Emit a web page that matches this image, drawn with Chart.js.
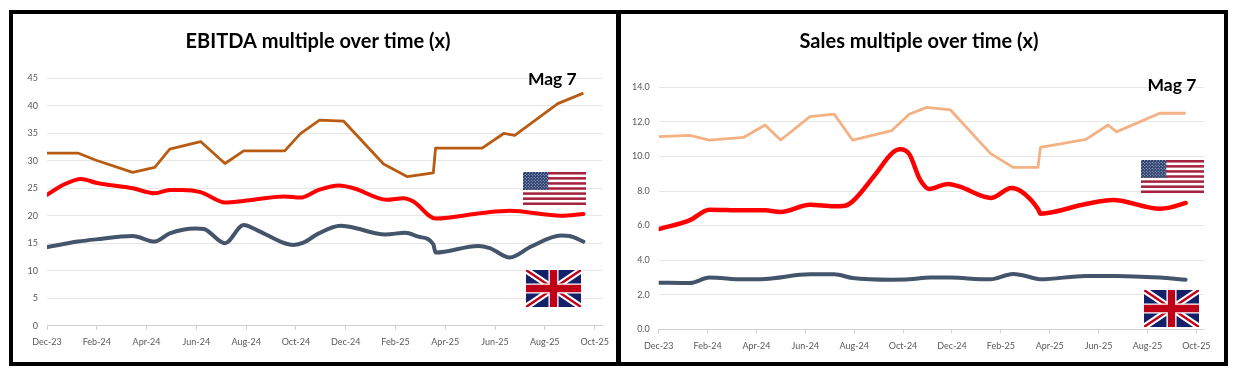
<!DOCTYPE html>
<html>
<head>
<meta charset="utf-8">
<title>Multiples over time</title>
<script src="https://cdn.jsdelivr.net/npm/chart.js@4"></script>
<style>
  html, body { margin: 0; padding: 0; background: #fff; width: 1233px; height: 371px; overflow: hidden; }
  .frame { position: absolute; background: #000; }
  .box { position: absolute; width: 603px; height: 348px; top: 14px; }
  .flag { position: absolute; }
</style>
</head>
<body>
<!-- black frame round both panels -->
<div class="frame" style="left:9px;top:10px;width:1219px;height:4px"></div>
<div class="frame" style="left:9px;top:362px;width:1219px;height:4px"></div>
<div class="frame" style="left:9px;top:10px;width:4px;height:356px"></div>
<div class="frame" style="left:616px;top:10px;width:5px;height:356px"></div>
<div class="frame" style="left:1224px;top:10px;width:4px;height:356px"></div>

<div class="box" style="left:13px"><canvas id="ebitdaChart" width="603" height="348"></canvas></div>
<div class="box" style="left:621px"><canvas id="salesChart" width="603" height="348"></canvas></div>

<svg width="0" height="0" style="position:absolute">
  <defs>
    <pattern id="stars" width="9" height="9" patternUnits="userSpaceOnUse">
      <circle cx="2.2" cy="2.2" r="1.7" fill="#fff"/>
      <circle cx="6.7" cy="6.7" r="1.7" fill="#fff"/>
    </pattern>
    <symbol id="usFlag" viewBox="0 0 190 100" preserveAspectRatio="none">
      <rect width="190" height="100" fill="#fff"/>
      <g fill="#a5233f">
        <rect y="0" width="190" height="7.7"/><rect y="15.4" width="190" height="7.7"/>
        <rect y="30.8" width="190" height="7.7"/><rect y="46.2" width="190" height="7.7"/>
        <rect y="61.6" width="190" height="7.7"/><rect y="77" width="190" height="7.7"/>
        <rect y="92.3" width="190" height="7.7"/>
      </g>
      <rect width="76" height="54" fill="#1f3568"/>
      <rect width="76" height="54" fill="url(#stars)"/>
    </symbol>
    <symbol id="ukFlag" viewBox="0 0 60 40" preserveAspectRatio="none">
      <rect width="60" height="40" fill="#12216a"/>
      <path d="M0 0L60 40M60 0L0 40" stroke="#fff" stroke-width="7"/>
      <path d="M0 0L60 40M60 0L0 40" stroke="#c00018" stroke-width="2.6"/>
      <path d="M30 0V40M0 20H60" stroke="#fff" stroke-width="11"/>
      <path d="M30 0V40M0 20H60" stroke="#c00018" stroke-width="8"/>
    </symbol>
  </defs>
</svg>
<svg class="flag" style="left:523px;top:172px" width="63" height="33"><use href="#usFlag" width="63" height="33"/></svg>
<svg class="flag" style="left:526px;top:270px" width="55" height="37"><use href="#ukFlag" width="55" height="37"/></svg>
<svg class="flag" style="left:1141px;top:160px" width="63" height="33"><use href="#usFlag" width="63" height="33"/></svg>
<svg class="flag" style="left:1144px;top:290px" width="55" height="37"><use href="#ukFlag" width="55" height="37"/></svg>

<script>
// tick labels, one every two months from Dec-23
const monthLabels = ["Dec-23", "Feb-24", "Apr-24", "Jun-24", "Aug-24", "Oct-24", "Dec-24",
                     "Feb-25", "Apr-25", "Jun-25", "Aug-25", "Oct-25"];

// x values are months since Dec-23
const ebitdaMagMonths = [0, 1.24, 1.97, 3.44, 4.33, 4.93, 6.17, 7.15, 7.9, 9.55, 10.17, 10.95, 11.92, 13.52, 14.48, 15.52, 15.61, 17.48, 18.36, 18.79, 20.52, 21.55];
const ebitdaMagValues = [31.4, 31.4, 30.1, 27.9, 28.8, 32.1, 33.5, 29.5, 31.8, 31.8, 34.9, 37.4, 37.2, 29.4, 27.1, 27.8, 32.3, 32.3, 35, 34.6, 40.4, 42.3];

const ebitdaUsMonths = [0, 0.64, 1.37, 1.97, 3.44, 4.33, 4.93, 5.44, 6.17, 7.17, 7.9, 9.55, 10.17, 10.92, 11.72, 12.32, 13.65, 14.32, 14.72, 15.61, 17.48, 18.59, 20.65, 21.55];
const ebitdaUsValues = [23.8, 25.6, 26.7, 26, 25, 24.1, 24.7, 24.7, 24.3, 22.4, 22.7, 23.5, 23.3, 24.7, 25.5, 25, 22.9, 23.2, 22.6, 19.5, 20.5, 20.9, 20, 20.3];

const ebitdaUkMonths = [0, 1.24, 1.97, 3.44, 4.33, 4.93, 5.97, 6.3, 7.15, 7.9, 8.43, 9.55, 9.9, 10.3, 10.92, 11.79, 12.25, 13.59, 14.39, 14.92, 15.52, 15.61, 17.32, 17.79, 18.59, 19.45, 20.65, 20.99, 21.55];
const ebitdaUkValues = [14.3, 15.3, 15.7, 16.3, 15.3, 16.8, 17.7, 17.6, 15, 18.3, 17.4, 15, 14.7, 15.1, 16.8, 18.2, 17.9, 16.6, 16.9, 16.2, 14.8, 13.3, 14.5, 14.1, 12.4, 14.4, 16.4, 16.3, 15.3];

const salesMagMonths = [0, 1.28, 2.07, 3.47, 4.35, 4.99, 6.19, 7.18, 7.93, 9.54, 10.25, 10.96, 11.94, 13.57, 14.5, 15.52, 15.62, 17.48, 18.39, 18.73, 20.5, 21.56];
const salesMagValues = [11.15, 11.22, 10.95, 11.1, 11.82, 10.95, 12.3, 12.45, 10.95, 11.5, 12.44, 12.84, 12.69, 10.18, 9.37, 9.37, 10.53, 10.99, 11.82, 11.42, 12.5, 12.5];

const salesUsMonths = [0, 1.28, 2.07, 3.47, 4.35, 4.99, 6.19, 7.18, 7.63, 7.93, 8.85, 9.54, 9.88, 10.25, 10.7, 11.07, 11.84, 12.32, 13.61, 14.43, 14.85, 15.52, 15.62, 17.48, 18.59, 20.5, 20.9, 21.56];
const salesUsValues = [5.8, 6.32, 6.92, 6.88, 6.88, 6.79, 7.21, 7.12, 7.15, 7.39, 8.93, 10.18, 10.41, 10.14, 8.64, 8.12, 8.41, 8.25, 7.6, 8.18, 7.96, 6.96, 6.69, 7.25, 7.48, 6.98, 7.04, 7.31];

const salesUkMonths = [0, 1.28, 2.07, 3.47, 4.35, 6.19, 7.18, 7.93, 9.54, 10.25, 11.1, 11.94, 13.57, 14.5, 15.52, 15.62, 17.48, 18.73, 20.5, 21.56];
const salesUkValues = [2.7, 2.68, 2.99, 2.89, 2.91, 3.18, 3.18, 2.97, 2.87, 2.89, 3.0, 2.99, 2.89, 3.2, 2.91, 2.89, 3.09, 3.09, 2.99, 2.87];

const uiFont = "Lato";
const gridGrey = "#e6e6e6";
const textGrey = "#595959";

function points(months, values) {
    return months.map((m, i) => ({ x: m, y: values[i] }));
}

function magLine(label, months, values, color) {
    return { label, data: points(months, values), borderColor: color, borderWidth: 2.8, pointRadius: 0, tension: 0, borderJoinStyle: "round" };
}

function smoothLine(label, months, values, color, width) {
    return { label, data: points(months, values), borderColor: color, borderWidth: width, pointRadius: 0, cubicInterpolationMode: "monotone", borderCapStyle: "round" };
}

// the title has to sit a little off the canvas centre, so it is drawn here along with "Mag 7"
const panelText = {
    id: "panelText",
    afterDraw(chart, args, opts) {
        const { ctx, scales } = chart;
        ctx.save();
        ctx.fillStyle = "#000";
        ctx.textAlign = "center";
        ctx.textBaseline = "middle";
        ctx.font = "bold 20px " + uiFont;
        ctx.fillText(opts.title, opts.titleX, 28);
        ctx.font = "bold 17.5px " + uiFont;
        ctx.fillText("Mag 7", scales.x.getPixelForValue(opts.magX), scales.y.getPixelForValue(opts.magY));
        ctx.restore();
    }
};

function makeChart(id, cfg) {
    new Chart(document.getElementById(id).getContext("2d"), {
        type: "line",
        data: { datasets: cfg.datasets },
        plugins: [panelText],
        options: {
            responsive: false,
            animation: false,
            layout: { padding: { left: 0, right: cfg.padRight, top: cfg.padTop, bottom: 0 } },
            plugins: {
                legend: { display: false },
                tooltip: { enabled: false },
                title: { display: false },
                panelText: { title: cfg.title, titleX: cfg.titleX, magX: cfg.magX, magY: cfg.magY }
            },
            scales: {
                x: {
                    type: "linear",
                    min: 0,
                    max: 22.3,
                    grid: { drawOnChartArea: false, drawTicks: true, tickLength: 4, color: "#d0d0d0" },
                    border: { color: "#d0d0d0" },
                    ticks: {
                        stepSize: 2,
                        includeBounds: false,
                        autoSkip: false,
                        maxRotation: 0,
                        padding: 7,
                        color: textGrey,
                        font: { family: uiFont, size: 9 },
                        callback: v => monthLabels[v / 2]
                    },
                    afterFit: s => { s.height = cfg.xHeight; }
                },
                y: {
                    min: 0,
                    max: cfg.yMax,
                    grid: { color: gridGrey, drawTicks: false },
                    border: { display: false },
                    ticks: {
                        stepSize: cfg.yStep,
                        padding: 9,
                        color: textGrey,
                        font: { family: uiFont, size: 9 },
                        callback: cfg.yFormat
                    },
                    afterFit: s => { s.width = cfg.yWidth; }
                }
            }
        }
    });
}

makeChart("ebitdaChart", {
    title: "EBITDA multiple over time (x)",
    titleX: 305,
    padRight: 11.5,
    padTop: 64.3,
    xHeight: 36.3,
    yWidth: 34,
    yMax: 45,
    yStep: 5,
    yFormat: v => String(v),
    magX: 20.3,
    magY: 44.8,
    datasets: [
        magLine("Mag 7", ebitdaMagMonths, ebitdaMagValues, "#b85c14"),
        smoothLine("US", ebitdaUsMonths, ebitdaUsValues, "#ff0000", 4),
        smoothLine("UK", ebitdaUkMonths, ebitdaUkValues, "#44546a", 4)
    ]
});

makeChart("salesChart", {
    title: "Sales multiple over time (x)",
    titleX: 298,
    padRight: 20.3,
    padTop: 73.3,
    xHeight: 32.7,
    yWidth: 37.7,
    yMax: 14,
    yStep: 2,
    yFormat: v => v.toFixed(1),
    magX: 21,
    magY: 14.13,
    datasets: [
        magLine("Mag 7", salesMagMonths, salesMagValues, "#f4b183"),
        smoothLine("US", salesUsMonths, salesUsValues, "#ff0000", 4.5),
        smoothLine("UK", salesUkMonths, salesUkValues, "#44546a", 4)
    ]
});
</script>
</body>
</html>
